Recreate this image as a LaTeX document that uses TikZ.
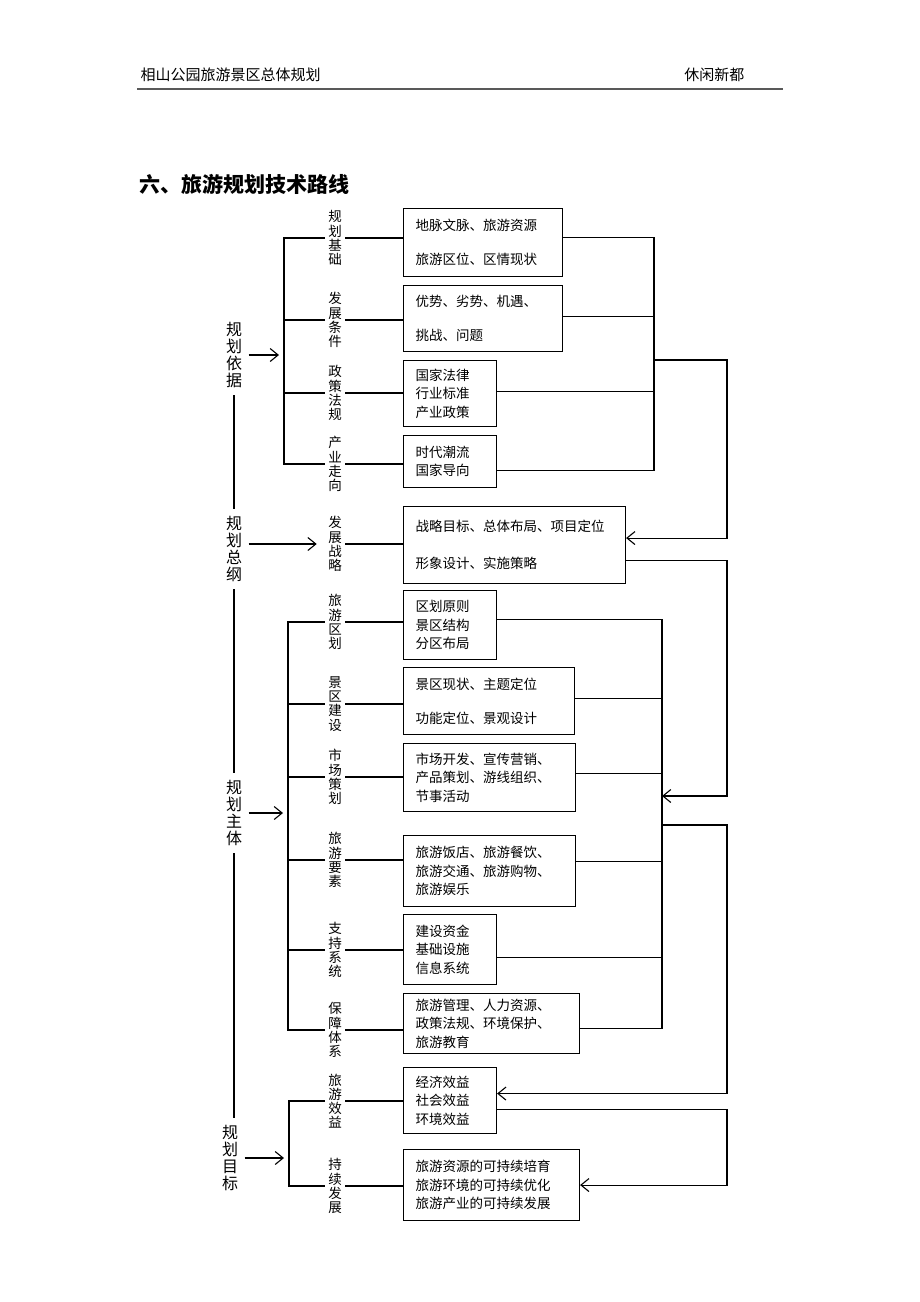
\documentclass[tikz,border=0pt]{standalone}
\usepackage{fontspec}
\setmainfont{Noto Sans CJK SC}
\usepackage{tikz}
\usetikzlibrary{arrows.meta}

\begin{document}
\begin{tikzpicture}[x=1pt, y=-1pt, line width=1.1pt,
    kuang/.style={draw, anchor=north west, inner xsep=12pt, inner ysep=0pt, align=left, font=\fontsize{13.5}{18.5}\selectfont},
    shu/.style={align=center, inner xsep=3pt, inner ysep=2pt, font=\fontsize{13.5}{14.2}\selectfont},
    da/.style={align=center, inner xsep=3pt, inner ysep=7pt, font=\fontsize{16}{17}\selectfont},
    jian/.style={-{Straight Barb[length=8pt,width=13pt]}}]
    \useasboundingbox (0,0) rectangle (920,1302);

    \node[anchor=west, inner sep=0pt, font=\fontsize{15}{15}\selectfont] (biaoti) at (140,75) {相山公园旅游景区总体规划};
    \node[anchor=east, inner sep=0pt, font=\fontsize{15}{15}\selectfont] (xiuxian) at (745,75) {休闲新都};
    \draw[line width=2pt, black!65] (137,89) -- (783,89);
    \node[anchor=west, inner sep=0pt, font=\fontsize{21}{21}\selectfont\bfseries] (zhang) at (139,184) {六、旅游规划技术路线};

    \node[da] (yiju) at (234,355) {规\\划\\依\\据};
    \node[da] (zonggang) at (234,549) {规\\划\\总\\纲};
    \node[da] (zhuti) at (234,813) {规\\划\\主\\体};
    \node[da] (mubiao) at (230,1158) {规\\划\\目\\标};
    \draw (yiju) -- (zonggang);
    \draw (zonggang) -- (zhuti);
    \draw (zhuti.south) -- (zhuti.south |- mubiao.north);

    \node[shu] (jichu) at (335,238) {规\\划\\基\\础};
    \node[shu] (tiaojian) at (335,320) {发\\展\\条\\件};
    \node[shu] (fagui) at (335,393) {政\\策\\法\\规};
    \node[shu] (zouxiang) at (335,464) {产\\业\\走\\向};
    \node[shu] (zhanlue) at (335,544) {发\\展\\战\\略};
    \node[shu] (quhua) at (335,622) {旅\\游\\区\\划};
    \node[shu] (jianshe) at (335,704) {景\\区\\建\\设};
    \node[shu] (cehua) at (335,777) {市\\场\\策\\划};
    \node[shu] (yaosu) at (335,860) {旅\\游\\要\\素};
    \node[shu] (xitong) at (335,950) {支\\持\\系\\统};
    \node[shu] (tixi) at (335,1030) {保\\障\\体\\系};
    \node[shu] (xiaoyi) at (335,1101) {旅\\游\\效\\益};
    \node[shu] (fazhan) at (335,1186) {持\\续\\发\\展};

    \node[kuang, text width=135pt, minimum height=68pt] (b1) at (403,208) {地脉文脉、旅游资源\\[15.5pt]旅游区位、区情现状};
    \node[kuang, text width=135pt, minimum height=66pt] (b2) at (403,285) {优势、劣势、机遇、\\[15.5pt]挑战、问题};
    \node[kuang, text width=69pt, minimum height=66pt] (b3) at (403,360) {国家法律\\行业标准\\产业政策};
    \node[kuang, text width=69pt, minimum height=52pt] (b4) at (403,435) {时代潮流\\国家导向};
    \node[kuang, text width=198pt, minimum height=77pt] (b5) at (403,506) {战略目标、总体布局、项目定位\\[18pt]形象设计、实施策略};
    \node[kuang, text width=69pt, minimum height=69pt] (b6) at (403,590) {区划原则\\景区结构\\分区布局};
    \node[kuang, text width=147pt, minimum height=67pt] (b7) at (403,667) {景区现状、主题定位\\[15.5pt]功能定位、景观设计};
    \node[kuang, text width=148pt, minimum height=68pt] (b8) at (403,743) {市场开发、宣传营销、\\产品策划、游线组织、\\节事活动};
    \node[kuang, text width=148pt, minimum height=71pt] (b9) at (403,835) {旅游饭店、旅游餐饮、\\旅游交通、旅游购物、\\旅游娱乐};
    \node[kuang, text width=69pt, minimum height=70pt] (b10) at (403,914) {建设资金\\基础设施\\信息系统};
    \node[kuang, text width=152pt, minimum height=60pt] (b11) at (403,993) {旅游管理、人力资源、\\政策法规、环境保护、\\旅游教育};
    \node[kuang, text width=69pt, minimum height=66pt] (b12) at (403,1067) {经济效益\\社会效益\\环境效益};
    \node[kuang, text width=152pt, minimum height=71pt] (b13) at (403,1149) {旅游资源的可持续培育\\旅游环境的可持续优化\\旅游产业的可持续发展};

    \coordinate (k1) at (284,0);
    \coordinate (k3) at (288,0);
    \coordinate (k4) at (289,0);
    \coordinate (h1) at (654,0);
    \coordinate (h3) at (662,796);
    \coordinate (fen) at (662,825);
    \coordinate (r) at (727,0);

    \draw[jian, shorten <=3pt, shorten >=5pt] (yiju.east) -- (yiju.east -| k1);
    \draw (jichu.west) -| (k1 |- zouxiang) -- (zouxiang.west);
    \draw (k1 |- tiaojian) -- (tiaojian.west);
    \draw (k1 |- fagui) -- (fagui.west);
    \draw (jichu.east) -- (jichu.east -| b1.west);
    \draw (tiaojian.east) -- (tiaojian.east -| b2.west);
    \draw (fagui.east) -- (fagui.east -| b3.west);
    \draw (zouxiang.east) -- (zouxiang.east -| b4.west);
    \draw ([yshift=5pt]b1.east) -- ([yshift=5pt]b1.east -| h1) -- ([yshift=-9pt]b4.east -| h1) -- ([yshift=-9pt]b4.east);
    \draw ([yshift=2pt]b2.east) -- ([yshift=2pt]b2.east -| h1);
    \draw ([yshift=2pt]b3.east) -- ([yshift=2pt]b3.east -| h1);
    \draw[jian] (h1 |- b3.north) -| ([yshift=7pt]b5.east -| r) -- ([yshift=7pt]b5.east);

    \draw[jian, shorten <=3pt, shorten >=8pt] (zonggang.east |- zhanlue) -- (zhanlue.west);
    \draw (zhanlue.east) -- (zhanlue.east -| b5.west);
    \draw[jian] ([yshift=-15pt]b5.east) -| (r |- h3) -- (h3);

    \draw[jian, shorten <=3pt, shorten >=5pt] (zhuti.east) -- (zhuti.east -| k3);
    \draw (quhua.west) -| (k3 |- tixi) -- (tixi.west);
    \draw (k3 |- jianshe) -- (jianshe.west);
    \draw (k3 |- cehua) -- (cehua.west);
    \draw (k3 |- yaosu) -- (yaosu.west);
    \draw (k3 |- xitong) -- (xitong.west);
    \draw (quhua.east) -- (quhua.east -| b6.west);
    \draw (jianshe.east) -- (jianshe.east -| b7.west);
    \draw (cehua.east) -- (cehua.east -| b8.west);
    \draw (yaosu.east) -- (yaosu.east -| b9.west);
    \draw (xitong.east) -- (xitong.east -| b10.west);
    \draw (tixi.east) -- (tixi.east -| b11.west);
    \draw ([yshift=5.5pt]b6.east) -- ([yshift=5.5pt]b6.east -| h3) -- ([yshift=-5pt]b11.east -| h3) -- ([yshift=-5pt]b11.east);
    \draw ([yshift=2.5pt]b7.east) -- ([yshift=2.5pt]b7.east -| h3);
    \draw ([yshift=4pt]b8.east) -- ([yshift=4pt]b8.east -| h3);
    \draw ([yshift=9.5pt]b9.east) -- ([yshift=9.5pt]b9.east -| h3);
    \draw ([yshift=-8pt]b10.east) -- ([yshift=-8pt]b10.east -| h3);
    \draw[jian] (fen) -| ([yshift=7pt]b12.east -| r) -- ([yshift=7pt]b12.east);

    \draw[jian, shorten <=3pt, shorten >=5pt] (mubiao.east) -- (mubiao.east -| k4);
    \draw (xiaoyi.west) -| (k4 |- fazhan) -- (fazhan.west);
    \draw (xiaoyi.east) -- (xiaoyi.east -| b12.west);
    \draw (fazhan.east) -- (fazhan.east -| b13.west);
    \draw[jian] ([yshift=-9pt]b12.east) -| (b13.east -| r) -- (b13.east);
\end{tikzpicture}
\end{document}
